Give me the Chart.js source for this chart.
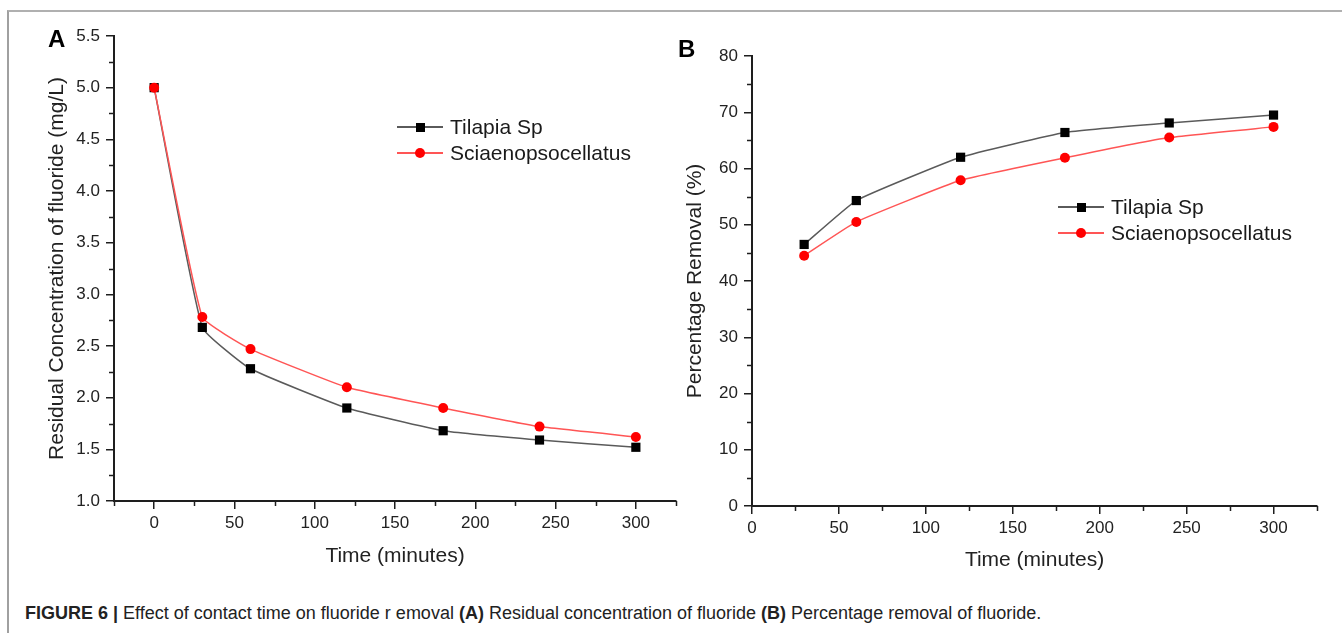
<!DOCTYPE html>
<html>
<head>
<meta charset="utf-8">
<title>Figure 6 - contact time</title>
<script src="https://cdn.jsdelivr.net/npm/chart.js@4.4.1/dist/chart.umd.min.js"></script>
<style>
  body { margin: 0; background: #fff; font-family: "Liberation Sans", Arial, sans-serif; }
  #page { position: relative; width: 1342px; height: 633px; overflow: hidden; background: #fff; }
  .frame { position: absolute; left: 7px; top: 10px; width: 1400px; height: 700px;
           border-top: 2px solid #b0b0b0; border-left: 2px solid #a0a0a0; }
  canvas { position: absolute; }
  .panel { position: absolute; font-weight: bold; font-size: 24px; line-height: 24px; color: #000; }
  .legend { position: absolute; font-size: 21px; color: #1a1a1a; }
  .legend .row { display: flex; align-items: center; height: 26px; white-space: nowrap; }
  .legend .sym { position: relative; width: 46px; height: 26px; margin-right: 7px; }
  .legend .sym .ln { position: absolute; left: 0; right: 0; top: 12px; height: 1.5px; }
  .legend .sym .mk { position: absolute; left: 18px; top: 8px; width: 10px; height: 10px; }
  .caption { position: absolute; left: 25px; top: 603px; font-size: 18px; color: #222; white-space: nowrap; }
</style>
</head>
<body>
<div id="page">
  <div class="frame"></div>
  <canvas id="chartA" width="690" height="571" style="left:0px; top:0px;"></canvas>
  <canvas id="chartB" width="662" height="576" style="left:680px; top:0px;"></canvas>
  <div class="panel" style="left:48px; top:27px;">A</div>
  <div class="panel" style="left:678px; top:37px;">B</div>
  <div class="legend" id="legendA" style="left:397px; top:114px;"></div>
  <div class="legend" id="legendB" style="left:1058px; top:194px;"></div>
  <div class="caption"><b>FIGURE 6 |</b> Effect of contact time on fluoride r emoval <b>(A)</b> Residual concentration of fluoride <b>(B)</b> Percentage removal of fluoride.</div>
</div>
<script>
// --- data ---
const seriesNames = ['Tilapia Sp', 'Sciaenopsocellatus'];

// panel A: residual concentration (mg/L)
const timeA = [0, 30, 60, 120, 180, 240, 300];
const tilapiaResidual = [5.0, 2.68, 2.28, 1.90, 1.68, 1.59, 1.52];
const sciaResidual = [5.0, 2.78, 2.47, 2.10, 1.90, 1.72, 1.62];

// panel B: percentage removal (%)
const timeB = [30, 60, 120, 180, 240, 300];
const tilapiaRemoval = [46.5, 54.3, 62.0, 66.4, 68.1, 69.5];
const sciaRemoval = [44.5, 50.5, 57.9, 61.9, 65.5, 67.4];

// ticks
const timeTicks = [0, 50, 100, 150, 200, 250, 300];
const timeMinorA = [-25, 25, 75, 125, 175, 225, 275, 325];
const timeMinorB = [25, 75, 125, 175, 225, 275, 325];
const residualTicks = [1.0, 1.5, 2.0, 2.5, 3.0, 3.5, 4.0, 4.5, 5.0, 5.5];
const residualMinor = [1.25, 1.75, 2.25, 2.75, 3.25, 3.75, 4.25, 4.75, 5.25];
const removalTicks = [0, 10, 20, 30, 40, 50, 60, 70, 80];
const removalMinor = [5, 15, 25, 35, 45, 55, 65, 75];

const AXIS = '#1e1e1e';
const TXT = '#222';
const FONT = '"Liberation Sans", Arial, sans-serif';
const lineColors = ['#5a5a5a', '#ff5555'];
const markColors = ['#000000', '#ff0000'];

Chart.defaults.font.family = FONT;

// short minor tick marks, drawn through the chart's own scales
const minorTickPlugin = {
    id: 'minorTicks',
    afterDraw(chart, args, opts) {
        const ctx = chart.ctx;
        ctx.save();
        ctx.strokeStyle = AXIS;
        ctx.lineWidth = 1.5;
        const xs = chart.scales.x, ys = chart.scales.y;
        (opts.x || []).forEach(v => {
            const px = Math.round(xs.getPixelForValue(v)) + 0.5;
            ctx.beginPath();
            ctx.moveTo(px, xs.top);
            ctx.lineTo(px, xs.top + 5);
            ctx.stroke();
        });
        (opts.y || []).forEach(v => {
            const py = Math.round(ys.getPixelForValue(v)) + 0.5;
            ctx.beginPath();
            ctx.moveTo(ys.right, py);
            ctx.lineTo(ys.right - 5, py);
            ctx.stroke();
        });
        ctx.restore();
    }
};

function points(xs, ys) {
    return xs.map((x, i) => ({ x: x, y: ys[i] }));
}

function makeDataset(i, data) {
    return {
        label: seriesNames[i],
        data: data,
        borderColor: lineColors[i],
        borderWidth: 1.5,
        pointStyle: i === 0 ? 'rect' : 'circle',
        pointRadius: i === 0 ? 6.5 : 5,
        pointBackgroundColor: markColors[i],
        pointBorderColor: markColors[i],
        pointBorderWidth: 0,
        tension: 0.12,
        order: i === 0 ? 1 : 0
    };
}

function makePanel(canvasId, o) {
    return new Chart(document.getElementById(canvasId), {
        type: 'line',
        data: { datasets: o.datasets },
        options: {
            responsive: false,
            devicePixelRatio: 1,
            animation: false,
            layout: { padding: o.padding },
            plugins: {
                legend: { display: false },
                tooltip: { enabled: false },
                minorTicks: { x: o.xMinor, y: o.yMinor }
            },
            scales: {
                x: {
                    type: 'linear',
                    min: o.xMin,
                    max: o.xMax,
                    afterBuildTicks: s => { s.ticks = timeTicks.map(v => ({ value: v })); },
                    afterFit: s => { s.height = o.xHeight; },
                    grid: { drawOnChartArea: false, tickLength: 8, color: AXIS, lineWidth: 1.5 },
                    border: { color: AXIS, width: 2 },
                    ticks: { color: TXT, font: { size: 17 }, padding: 4, maxRotation: 0, autoSkip: false,
                             callback: v => String(v) },
                    title: { display: true, text: 'Time (minutes)', color: TXT, font: { size: 21 },
                             padding: { top: 0, bottom: o.xTitlePad } }
                },
                y: {
                    type: 'linear',
                    min: o.yMin,
                    max: o.yMax,
                    afterBuildTicks: s => { s.ticks = o.yTicks.map(v => ({ value: v })); },
                    afterFit: s => { s.width = o.yWidth; },
                    grid: { drawOnChartArea: false, tickLength: 8, color: AXIS, lineWidth: 1.5 },
                    border: { color: AXIS, width: 2 },
                    ticks: { color: TXT, font: { size: 17 }, padding: 6, autoSkip: false,
                             callback: o.yFormat },
                    title: { display: true, text: o.yTitle, color: TXT, font: { size: 21 },
                             padding: { top: o.yTitlePad, bottom: 0 } }
                }
            }
        },
        plugins: [minorTickPlugin]
    });
}

makePanel('chartA', {
    datasets: [
        makeDataset(0, points(timeA, tilapiaResidual)),
        makeDataset(1, points(timeA, sciaResidual))
    ],
    padding: { top: 36, right: 14, left: 0, bottom: 0 },
    xMin: -25, xMax: 325, xMinor: timeMinorA, xHeight: 70, xTitlePad: 2,
    yMin: 1.0, yMax: 5.5, yTicks: residualTicks, yMinor: residualMinor, yWidth: 114,
    yFormat: v => v.toFixed(1),
    yTitle: 'Residual Concentration of fluoride (mg/L)', yTitlePad: 45
});

makePanel('chartB', {
    datasets: [
        makeDataset(0, points(timeB, tilapiaRemoval)),
        makeDataset(1, points(timeB, sciaRemoval))
    ],
    padding: { top: 56, right: 25, left: 0, bottom: 0 },
    xMin: 0, xMax: 325, xMinor: timeMinorB, xHeight: 70, xTitlePad: 3,
    yMin: 0, yMax: 80, yTicks: removalTicks, yMinor: removalMinor, yWidth: 72,
    yFormat: v => String(v),
    yTitle: 'Percentage Removal (%)', yTitlePad: 3
});

// Origin-style legends: line segment with the marker in the middle
function buildLegend(id) {
    const box = document.getElementById(id);
    seriesNames.forEach((name, i) => {
        const row = document.createElement('div');
        row.className = 'row';
        const sym = document.createElement('span');
        sym.className = 'sym';
        const ln = document.createElement('span');
        ln.className = 'ln';
        ln.style.background = lineColors[i];
        const mk = document.createElement('span');
        mk.className = 'mk';
        mk.style.background = markColors[i];
        if (i === 1) mk.style.borderRadius = '50%';
        else { mk.style.width = '9px'; mk.style.height = '9px'; mk.style.left = '18.5px'; mk.style.top = '8.5px'; }
        sym.appendChild(ln);
        sym.appendChild(mk);
        const label = document.createElement('span');
        label.textContent = name;
        row.appendChild(sym);
        row.appendChild(label);
        box.appendChild(row);
    });
}
buildLegend('legendA');
buildLegend('legendB');
</script>
</body>
</html>
